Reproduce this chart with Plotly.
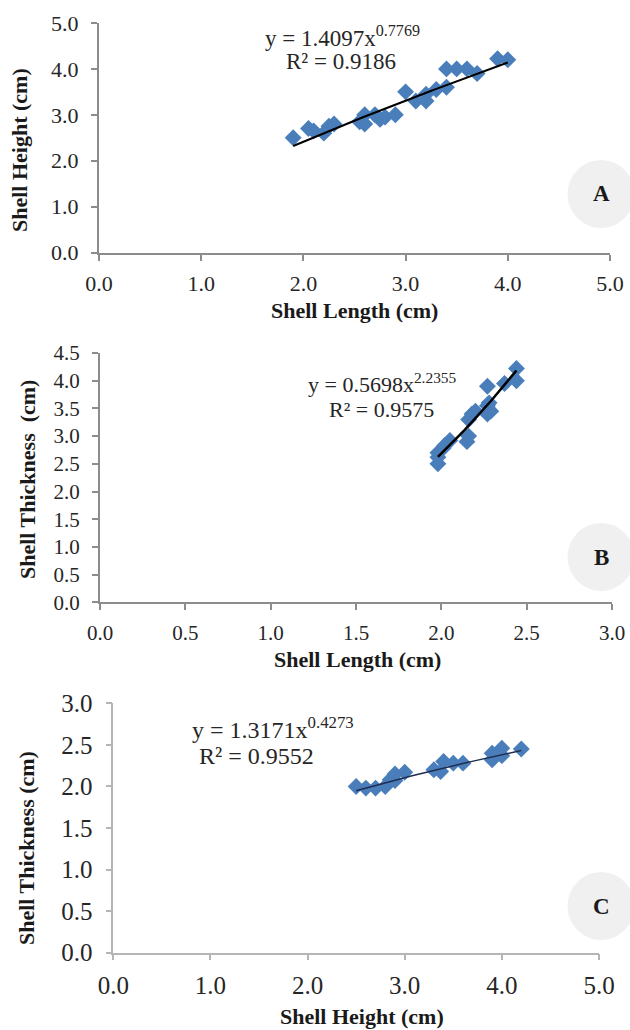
import numpy as np
import plotly.graph_objects as go

W, H = 630, 1030

# ---- Panel A: Shell Length vs Shell Height ----
a_len = [1.9, 2.05, 2.1, 2.2, 2.25, 2.3, 2.55, 2.6, 2.6, 2.7, 2.75, 2.8, 2.9, 3.0, 3.1, 3.2, 3.2, 3.3, 3.4, 3.4, 3.5, 3.6, 3.7, 3.9, 4.0]
a_hgt = [2.5, 2.7, 2.65, 2.6, 2.75, 2.8, 2.85, 3.0, 2.8, 3.0, 2.9, 2.95, 3.0, 3.5, 3.3, 3.3, 3.45, 3.55, 3.6, 4.0, 4.0, 4.0, 3.9, 4.22, 4.2]
a_coef = (1.4097, 0.7769)
a_eq = ["y = 1.4097x<sup>0.7769</sup>", "R² = 0.9186"]

# ---- Panel B: Shell Length vs Shell Thickness ----
b_len = [1.98, 1.98, 1.98, 2.01, 2.02, 2.05, 2.15, 2.16, 2.16, 2.18, 2.2, 2.27, 2.29, 2.27, 2.28, 2.27, 2.37, 2.44, 2.44]
b_thk = [2.5, 2.62, 2.7, 2.78, 2.83, 2.92, 2.9, 3.0, 3.3, 3.4, 3.45, 3.4, 3.45, 3.55, 3.6, 3.9, 3.95, 4.0, 4.22]
b_coef = (0.5698, 2.2355)
b_eq = ["y = 0.5698x<sup>2.2355</sup>", "R² = 0.9575"]

# ---- Panel C: Shell Height vs Shell Thickness ----
c_hgt = [2.5, 2.6, 2.7, 2.8, 2.85, 2.9, 2.9, 3.0, 3.3, 3.37, 3.4, 3.5, 3.6, 3.9, 3.9, 4.0, 4.0, 4.2]
c_thk = [2.0, 1.98, 1.98, 2.0, 2.08, 2.15, 2.07, 2.17, 2.2, 2.18, 2.3, 2.28, 2.28, 2.32, 2.4, 2.37, 2.46, 2.45]
c_coef = (1.3171, 0.4273)
c_eq = ["y = 1.3171x<sup>0.4273</sup>", "R² = 0.9552"]

x_ticks_a = [0.0, 1.0, 2.0, 3.0, 4.0, 5.0]
y_ticks_a = [0.0, 1.0, 2.0, 3.0, 4.0, 5.0]
x_ticks_b = [0.0, 0.5, 1.0, 1.5, 2.0, 2.5, 3.0]
y_ticks_b = [0.0, 0.5, 1.0, 1.5, 2.0, 2.5, 3.0, 3.5, 4.0, 4.5]
x_ticks_c = [0.0, 1.0, 2.0, 3.0, 4.0, 5.0]
y_ticks_c = [0.0, 0.5, 1.0, 1.5, 2.0, 2.5, 3.0]

MARKER = "#4A7EBB"
FONT = "Liberation Serif"
TXT = "#262626"


def px(x):
    return x / W


def py(y):
    return 1 - y / H


fig = go.Figure()

panels = [
    dict(x=a_len, y=a_hgt, coef=a_coef, eq=a_eq, xt=x_ticks_a, yt=y_ticks_a,
         dom=(99, 610, 23, 252.5), xtitle="Shell Length (cm)", ytitle="Shell Height (cm)",
         xtpos=(354, 310), ytpos=(20, 150), eqpos=[(342, 36), (341, 61)], letter="A",
         circ=(601, 194), lw=2, lc="black", tf=22, ef=23, axc="#8C8C8C", axw=2),
    dict(x=b_len, y=b_thk, coef=b_coef, eq=b_eq, xt=x_ticks_b, yt=y_ticks_b,
         dom=(100, 612, 353, 602.3), xtitle="Shell Length (cm)", ytitle="Shell Thickness  (cm)",
         xtpos=(357, 659), ytpos=(27, 480), eqpos=[(382, 383), (381, 409)], letter="B",
         circ=(601, 557), lw=2.5, lc="black", tf=21, ef=22, axc="#8C8C8C", axw=2),
    dict(x=c_hgt, y=c_thk, coef=c_coef, eq=c_eq, xt=x_ticks_c, yt=y_ticks_c,
         dom=(113.3, 599, 703.3, 952.7), xtitle="Shell Height (cm)", ytitle="Shell Thickness (cm)",
         xtpos=(362, 1016), ytpos=(26, 848), eqpos=[(273, 728), (256, 756)], letter="C",
         circ=(601, 906), lw=1.5, lc="#1F2D4F", tf=25, ef=24, axc="#B5B5B5", axw=1.5),
]

annotations = []
shapes = []
layout = {}
for i, p in enumerate(panels):
    k = "" if i == 0 else str(i + 1)
    xa, ya = "x" + k, "y" + k
    x0, x1, y0, y1 = p["dom"]
    cx, cy = p["circ"]
    shapes.append(dict(type="circle", xref="paper", yref="paper",
                       x0=px(cx - 33.5), x1=px(cx + 33.5), y0=py(cy + 34), y1=py(cy - 34),
                       fillcolor="#F0F0F0", line=dict(width=0), layer="below"))
    annotations.append(dict(text="<b>" + p["letter"] + "</b>", xref="paper", yref="paper",
                            x=px(cx), y=py(cy), xanchor="center", yanchor="middle",
                            showarrow=False,
                            font=dict(family=FONT, size=23, color="#1A1A1A")))
    fig.add_trace(go.Scatter(x=p["x"], y=p["y"], mode="markers", xaxis=xa, yaxis=ya,
                             marker=dict(symbol="diamond", size=13, color=MARKER,
                                         line=dict(width=0)),
                             showlegend=False, cliponaxis=False))
    a, b = p["coef"]
    xs = np.linspace(min(p["x"]), max(p["x"]), 60)
    fig.add_trace(go.Scatter(x=xs, y=a * xs ** b, mode="lines", xaxis=xa, yaxis=ya,
                             line=dict(color=p["lc"], width=p["lw"]), showlegend=False))
    axis_common = dict(showgrid=False, zeroline=False, showline=True, linecolor=p["axc"],
                       linewidth=p["axw"], ticks="outside", tickcolor=p["axc"], tickwidth=p["axw"],
                       ticklen=6, automargin=False,
                       tickfont=dict(family=FONT, size=p["tf"], color=TXT), fixedrange=True)
    layout["xaxis" + k] = dict(domain=[px(x0), px(x1)], anchor=ya, range=[p["xt"][0], p["xt"][-1]],
                               tickvals=p["xt"], ticktext=[f"{v:.1f}" for v in p["xt"]],
                               ticklabelstandoff=4, **axis_common)
    layout["yaxis" + k] = dict(domain=[py(y1), py(y0)], anchor=xa, range=[p["yt"][0], p["yt"][-1]],
                               tickvals=p["yt"], ticktext=[f"{v:.1f}" for v in p["yt"]],
                               ticklabelstandoff=8, **axis_common)
    tx, ty = p["xtpos"]
    annotations.append(dict(text="<b>" + p["xtitle"] + "</b>", xref="paper", yref="paper",
                            x=px(tx), y=py(ty), xanchor="center", yanchor="middle",
                            showarrow=False,
                            font=dict(family=FONT, size=22, color="#1A1A1A")))
    tx, ty = p["ytpos"]
    annotations.append(dict(text="<b>" + p["ytitle"] + "</b>", xref="paper", yref="paper",
                            x=px(tx), y=py(ty), xanchor="center", yanchor="middle",
                            showarrow=False, textangle=-90,
                            font=dict(family=FONT, size=22, color="#1A1A1A")))
    for line, (ex, ey) in zip(p["eq"], p["eqpos"]):
        annotations.append(dict(text=line, xref="paper", yref="paper",
                                x=px(ex), y=py(ey), xanchor="center", yanchor="middle",
                                showarrow=False,
                                font=dict(family=FONT, size=p["ef"], color=TXT)))

fig.update_layout(template="none", width=W, height=H, margin=dict(l=0, r=0, t=0, b=0),
                  paper_bgcolor="white", plot_bgcolor="rgba(0,0,0,0)",
                  annotations=annotations, shapes=shapes, **layout)

fig.write_html("out.html", config={"displayModeBar": False},
               post_script="document.body.style.margin='0';document.body.style.overflow='hidden';")
